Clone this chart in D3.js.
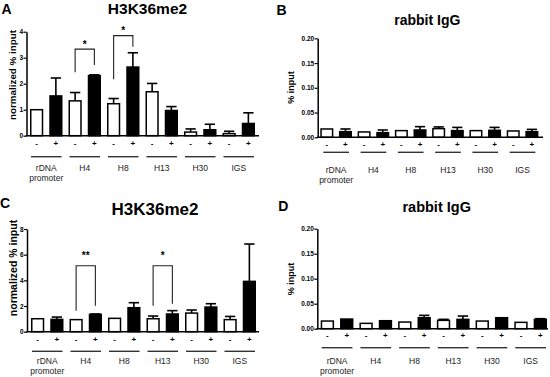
<!DOCTYPE html>
<html><head><meta charset="utf-8">
<script src="https://cdn.jsdelivr.net/npm/d3@7"></script>
<style>
html,body{margin:0;padding:0;background:#fff;}
svg{display:block;font-family:"Liberation Sans",Arial,sans-serif;}
</style></head>
<body>
<script>
// ---------- data ----------
const groupLine1 = ["rDNA", "H4", "H8", "H13", "H30", "IGS"];
const groupLine2 = ["promoter", "", "", "", "", ""];
const treatments = ["-", "+"];

// Panel A: H3K36me2 (normalized % input)
const aMinus    = [1.00, 1.34, 1.23, 1.69, 0.14, 0.08];
const aMinusSem = [0.00, 0.32, 0.20, 0.32, 0.12, 0.09];
const aPlus     = [1.53, 2.31, 2.64, 0.97, 0.23, 0.47];
const aPlusSem  = [0.69, 0.03, 0.55, 0.15, 0.21, 0.41];
const aTicks = [0, 1, 2, 3, 4];
const aSigGroup = [1, 2];
const aSigLabel = ["*", "*"];
const aSigLeft  = [2.44, 2.17];
const aSigTop   = [3.33, 3.85];
const aSigRight = [2.72, 3.42];
const aSigStar  = [3.58, 4.13];

// Panel B: rabbit IgG (% input)
const bMinus    = [0.0168, 0.0108, 0.0135, 0.0175, 0.0135, 0.0128];
const bMinusSem = [0, 0, 0, 0.0035, 0, 0];
const bPlus     = [0.0114, 0.0094, 0.0148, 0.0135, 0.0141, 0.0114];
const bPlusSem  = [0.0054, 0.0054, 0.0067, 0.0065, 0.0059, 0.0046];
const igTicks = [0, 0.05, 0.10, 0.15, 0.20];

// Panel C: H3K36me2 (normalized % input)
const cMinus    = [1.01, 0.94, 1.04, 1.01, 1.45, 0.94];
const cMinusSem = [0, 0, 0, 0.21, 0.24, 0.25];
const cPlus     = [0.96, 1.35, 1.87, 1.38, 1.92, 3.92];
const cPlusSem  = [0.18, 0.03, 0.39, 0.26, 0.26, 2.91];
const cTicks = [0, 2, 4, 6, 8];
const cSigGroup = [1, 3];
const cSigLabel = ["**", "*"];
const cSigLeft  = [1.64, 2.03];
const cSigTop   = [5.14, 5.14];
const cSigRight = [2.03, 2.18];
const cSigStar  = [6.1, 6.1];

// Panel D: rabbit IgG (% input)
const dMinus    = [0.0153, 0.0107, 0.0133, 0.0167, 0.0153, 0.0127];
const dMinusSem = [0, 0, 0, 0.002, 0, 0];
const dPlus     = [0.0193, 0.0160, 0.0220, 0.0187, 0.0220, 0.0187];
const dPlusSem  = [0, 0, 0.0047, 0.0066, 0, 0.0013];

// ---------- drawing ----------
const svg = d3.select("body").append("svg").attr("width", 550).attr("height", 377);

function panel(cfg) {
  const g = svg.append("g");
  const n = groupLine1.length * 2;
  const ys = d3.scaleLinear().domain([0, cfg.yMax]).range([cfg.y0, cfg.yTop]);
  const xs = d3.scaleBand().domain(d3.range(n))
    .range([cfg.x0, cfg.x0 + n * cfg.period - cfg.gap])
    .paddingInner(cfg.gap / cfg.period).paddingOuter(0);
  const bw = xs.bandwidth();
  const bars = [];
  groupLine1.forEach((_, gi) => {
    bars.push({i: gi * 2, v: cfg.minus[gi], e: cfg.minusSem[gi], fill: "#fff"});
    bars.push({i: gi * 2 + 1, v: cfg.plus[gi], e: cfg.plusSem[gi], fill: "#000"});
  });
  // error bars
  const cw = bw * 0.78;
  bars.filter(d => d.e > 0).forEach(d => {
    const cx = xs(d.i) + bw / 2;
    g.append("line").attr("x1", cx).attr("x2", cx).attr("y1", ys(d.v)).attr("y2", ys(d.v + d.e))
      .attr("stroke", "#000").attr("stroke-width", 1.6);
    g.append("line").attr("x1", cx - cw / 2).attr("x2", cx + cw / 2)
      .attr("y1", ys(d.v + d.e)).attr("y2", ys(d.v + d.e))
      .attr("stroke", "#000").attr("stroke-width", 1.6);
  });
  // bars
  g.selectAll("rect.bar").data(bars).join("rect")
    .attr("x", d => xs(d.i) + 0.75).attr("width", bw - 1.5)
    .attr("y", d => ys(d.v)).attr("height", d => cfg.y0 - ys(d.v))
    .attr("fill", d => d.fill).attr("stroke", "#000").attr("stroke-width", 1.5);
  // y axis
  const ax = g.append("g").attr("transform", `translate(${cfg.ax},0)`)
    .call(d3.axisLeft(ys).tickValues(cfg.ticks).tickSize(3).tickSizeOuter(0).tickFormat(cfg.fmt));
  ax.select(".domain").attr("stroke", "#000").attr("stroke-width", 1.5);
  ax.selectAll(".tick line").attr("stroke", "#000").attr("stroke-width", 1.2);
  ax.selectAll(".tick text").attr("font-size", 6.5).attr("font-weight", "bold")
    .attr("font-family", "Liberation Sans, Arial, sans-serif").attr("x", -3.5).attr("fill", "#000");
  // x axis line
  g.append("line").attr("x1", cfg.ax - 0.75).attr("x2", cfg.xEnd).attr("y1", cfg.y0).attr("y2", cfg.y0)
    .attr("stroke", "#000").attr("stroke-width", 1.6);
  // -/+ labels
  g.selectAll("text.tr").data(bars).join("text")
    .attr("x", d => xs(d.i) + bw / 2).attr("y", cfg.dashY)
    .attr("text-anchor", "middle").attr("font-size", 8).attr("font-weight", "bold")
    .text(d => treatments[d.i % 2]);
  // group lines and labels
  groupLine1.forEach((lab, gi) => {
    const l = xs(gi * 2) + cfg.inset, r = xs(gi * 2 + 1) + bw - cfg.inset;
    const c = (xs(gi * 2) + xs(gi * 2 + 1) + bw) / 2;
    g.append("line").attr("x1", l).attr("x2", r).attr("y1", cfg.lineY).attr("y2", cfg.lineY)
      .attr("stroke", "#333").attr("stroke-width", 1.4);
    g.append("text").attr("x", c).attr("y", cfg.labelY).attr("text-anchor", "middle")
      .attr("font-size", 8.5).attr("fill", "#222").text(lab);
    if (groupLine2[gi]) g.append("text").attr("x", c).attr("y", cfg.labelY + 9.5)
      .attr("text-anchor", "middle").attr("font-size", 8.5).attr("fill", "#222").text(groupLine2[gi]);
  });
  // significance brackets
  if (cfg.sig) {
    cfg.sig.group.forEach((gi, k) => {
      const lx = xs(gi * 2) + bw / 2, rx = xs(gi * 2 + 1) + bw / 2;
      const path = d3.path();
      path.moveTo(lx, ys(cfg.sig.left[k]));
      path.lineTo(lx, ys(cfg.sig.top[k]));
      path.lineTo(rx, ys(cfg.sig.top[k]));
      path.lineTo(rx, ys(cfg.sig.right[k]));
      g.append("path").attr("d", path.toString()).attr("fill", "none")
        .attr("stroke", "#222").attr("stroke-width", 1.1);
      g.append("text").attr("x", (lx + rx) / 2).attr("y", ys(cfg.sig.star[k]) + 5.5)
        .attr("text-anchor", "middle").attr("font-size", 10).attr("font-weight", "bold")
        .text(cfg.sig.label[k]);
    });
  }
  // titles
  g.append("text").attr("x", cfg.titleX).attr("y", cfg.titleY).attr("text-anchor", "middle")
    .attr("font-size", cfg.titleSize).attr("font-weight", "bold").text(cfg.title);
  g.append("text").attr("x", cfg.letterX).attr("y", cfg.letterY)
    .attr("font-size", 14).attr("font-weight", "bold").text(cfg.letter);
  g.append("text").attr("transform", `translate(${cfg.yTitleX},${cfg.yTitleY}) rotate(-90)`)
    .attr("text-anchor", "middle").attr("dy", "0.35em")
    .attr("font-size", cfg.yTitleSize).attr("font-weight", "bold").text(cfg.yTitle);
}

const fmtInt = d3.format("d");
const fmt2 = d3.format(".2f");

panel({letter: "A", letterX: 1.5, letterY: 13.5, title: "H3K36me2", titleX: 147.5, titleY: 14.3, titleSize: 15.5,
  yTitle: "normalized % input", yTitleX: 13, yTitleY: 75, yTitleSize: 9.8,
  yMax: 4, ticks: aTicks, fmt: fmtInt, y0: 135.7, yTop: 31.7, ax: 26.5,
  x0: 30, period: 19.25, gap: 6, xEnd: 259,
  minus: aMinus, minusSem: aMinusSem, plus: aPlus, plusSem: aPlusSem,
  dashY: 146, lineY: 156.7, labelY: 171, inset: 1,
  sig: {group: aSigGroup, label: aSigLabel, left: aSigLeft, top: aSigTop, right: aSigRight, star: aSigStar}});

panel({letter: "B", letterX: 276.5, letterY: 15, title: "rabbit IgG", titleX: 427.3, titleY: 25, titleSize: 14,
  yTitle: "% input", yTitleX: 291, yTitleY: 87.5, yTitleSize: 9,
  yMax: 0.20, ticks: igTicks, fmt: fmt2, y0: 137.3, yTop: 38.3, ax: 317.7,
  x0: 320.3, period: 18.64, gap: 5.6, xEnd: 543,
  minus: bMinus, minusSem: bMinusSem, plus: bPlus, plusSem: bPlusSem,
  dashY: 147, lineY: 152.3, labelY: 173, inset: 3});

panel({letter: "C", letterX: 0, letterY: 208, title: "H3K36me2", titleX: 155, titleY: 214.5, titleSize: 17,
  yTitle: "normalized % input", yTitleX: 13, yTitleY: 268, yTitleSize: 10.5,
  yMax: 8, ticks: cTicks, fmt: fmtInt, y0: 331.7, yTop: 229, ax: 27,
  x0: 31, period: 19.25, gap: 6, xEnd: 259,
  minus: cMinus, minusSem: cMinusSem, plus: cPlus, plusSem: cPlusSem,
  dashY: 341.5, lineY: 351.3, labelY: 364, inset: 1,
  sig: {group: cSigGroup, label: cSigLabel, left: cSigLeft, top: cSigTop, right: cSigRight, star: cSigStar}});

panel({letter: "D", letterX: 278.3, letterY: 211, title: "rabbit IgG", titleX: 436.7, titleY: 212, titleSize: 14.5,
  yTitle: "% input", yTitleX: 291, yTitleY: 279, yTitleSize: 9,
  yMax: 0.20, ticks: igTicks, fmt: fmt2, y0: 328.7, yTop: 228.7, ax: 317.3,
  x0: 320.7, period: 19.36, gap: 6, xEnd: 548,
  minus: dMinus, minusSem: dMinusSem, plus: dPlus, plusSem: dPlusSem,
  dashY: 338, lineY: 347.7, labelY: 364, inset: 1});
</script>
</body></html>
